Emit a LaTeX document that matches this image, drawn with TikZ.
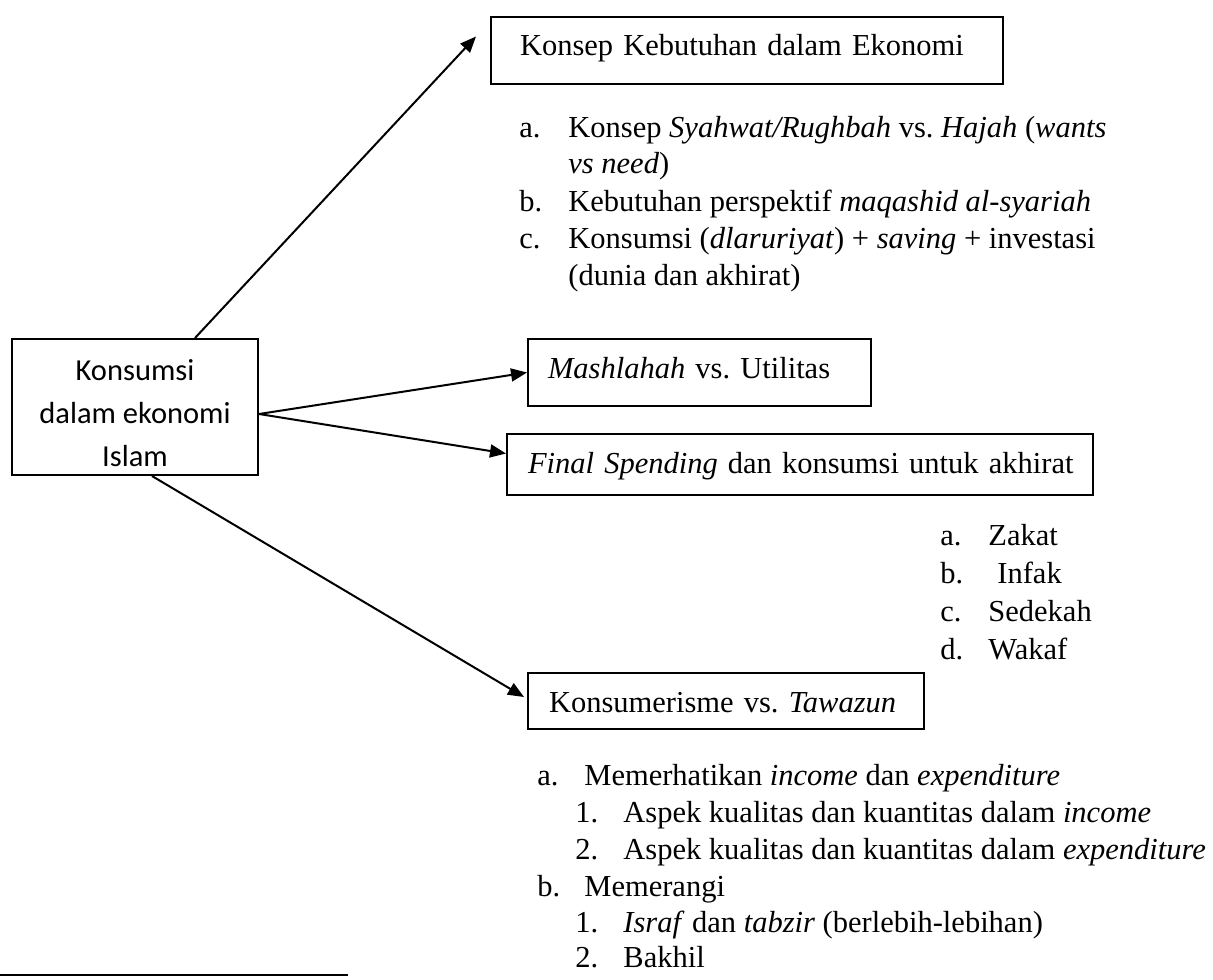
\documentclass[tikz,border=0pt]{standalone}
\usepackage{fontspec}
\setmainfont{Liberation Serif}
\newfontfamily\calibri{Carlito}
\usetikzlibrary{arrows.meta}

\begin{document}
\begin{tikzpicture}[x=0.5pt, y=-0.5pt, every node/.style={font=\fontsize{15.25}{18}\selectfont\frenchspacing},
  box/.style={draw, line width=1pt, anchor=north west, align=left, inner ysep=0pt},
  item/.style={anchor=base west, inner sep=0pt},
  link/.style={line width=1pt, -{Triangle[length=8pt,width=6.5pt]}}]
  \useasboundingbox (0,0) rectangle (1213,979);

  % boxes
  \node[box, align=center, inner sep=0pt, minimum width=123pt, font=\calibri\fontsize{15.25}{21.5}\selectfont] (konsumsi) at (11,338)
    {\rule{0pt}{20.5pt}Konsumsi\\dalam ekonomi\\Islam\rule[-4.5pt]{0pt}{4.5pt}};
  \node[box, inner xsep=14.5pt, text width=227pt, text height=19.5pt, text depth=14pt] (kebutuhan) at (490,16) {\mbox{Konsep Kebutuhan dalam Ekonomi}};
  \node[box, inner xsep=10pt, text width=151.5pt, text height=19.5pt, text depth=14pt] (maslahah) at (527,338) {\mbox{\textit{Mashlahah} vs. Utilitas}};
  \node[box, inner xsep=10.5pt, text width=272pt, text height=19.5pt, text depth=11pt] (spending) at (506,433) {\mbox{\textit{Final Spending} dan konsumsi untuk akhirat}};
  \node[box, inner xsep=10.5pt, text width=177pt, text height=19.5pt, text depth=8.5pt] (tawazun) at (527,672) {\mbox{Konsumerisme vs. \textit{Tawazun}}};

  % arrows
  \draw[link] (konsumsi.49) -- ([xshift=-7pt,yshift=7pt]kebutuhan.west);
  \draw[link] ([yshift=-3.5pt]konsumsi.east) -- (maslahah.west);
  \draw[link] ([yshift=-3.5pt]konsumsi.east) -- ([yshift=5.5pt]spending.west);
  \draw[link] ([xshift=8.5pt]konsumsi.south) -- ([xshift=-1.5pt,yshift=2pt]tawazun.west);

  % list under kebutuhan
  \node[item] (kbA) at (519,137) {a.};
  \node[item] (kbAt) at (568,137) {Konsep \textit{Syahwat/Rughbah} vs. \textit{Hajah} (\textit{wants}};
  \node[item] (kbAu) at (568,173) {\textit{vs need})};
  \node[item] (kbB) at (519,211) {b.};
  \node[item] (kbBt) at (568,211) {Kebutuhan perspektif \textit{maqashid al-syariah}};
  \node[item] (kbC) at (519,248) {c.};
  \node[item] (kbCt) at (568,248) {Konsumsi (\textit{dlaruriyat}) + \textit{saving} + investasi};
  \node[item] (kbCu) at (568,285) {(dunia dan akhirat)};

  % list under spending
  \node[item] (spA) at (940,545) {a.};
  \node[item] (spAt) at (988,545) {Zakat};
  \node[item] (spB) at (940,583) {b.};
  \node[item] (spBt) at (997,583) {Infak};
  \node[item] (spC) at (940,621) {c.};
  \node[item] (spCt) at (988,621) {Sedekah};
  \node[item] (spD) at (940,659) {d.};
  \node[item] (spDt) at (988,659) {Wakaf};

  % list under tawazun
  \node[item] (twA) at (537,785) {a.};
  \node[item] (twAt) at (584,785) {Memerhatikan \textit{income} dan \textit{expenditure}};
  \node[item] (twA1) at (575,822) {1.};
  \node[item] (twA1t) at (623,822) {Aspek kualitas dan kuantitas dalam \textit{income}};
  \node[item] (twA2) at (575,859) {2.};
  \node[item] (twA2t) at (623,859) {Aspek kualitas dan kuantitas dalam \textit{expenditure}};
  \node[item] (twB) at (537,896) {b.};
  \node[item] (twBt) at (584,896) {Memerangi};
  \node[item] (twB1) at (575,932) {1.};
  \node[item] (twB1t) at (623,932) {\textit{Israf} dan \textit{tabzir} (berlebih-lebihan)};
  \node[item] (twB2) at (575,967) {2.};
  \node[item] (twB2t) at (623,967) {Bakhil};

  % footnote rule
  \draw[line width=1pt] (0,975) -- (348,975);
\end{tikzpicture}
\end{document}
